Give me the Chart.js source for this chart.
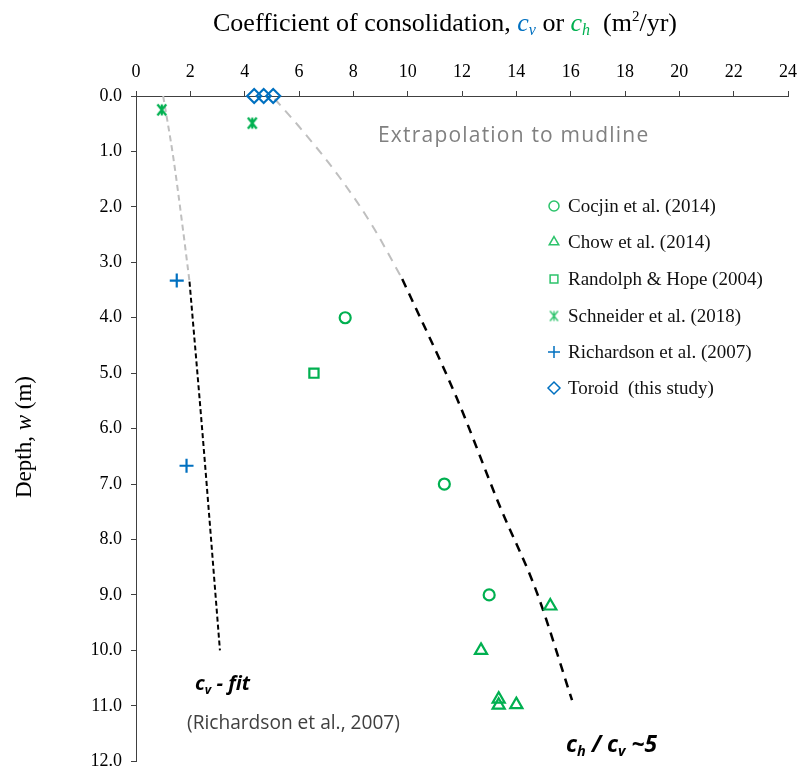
<!DOCTYPE html>
<html>
<head>
<meta charset="utf-8">
<script src="https://cdn.jsdelivr.net/npm/chart.js"></script>
<style>
  html, body { margin: 0; padding: 0; background: #fff; }
  #wrap { width: 805px; height: 781px; }
</style>
</head>
<body>
<div id="wrap"><canvas id="mycanvas" width="805" height="781"></canvas></div>
<script>
// ---- data (x = c in m2/yr, y = depth in m) ----
var cocjinX = [7.7, 11.35, 13.0];
var cocjinY = [4.0, 7.0, 9.0];
var chowX = [15.25, 12.7, 13.35, 13.35, 14.0];
var chowY = [9.2, 10.0, 10.88, 10.99, 10.98];
var randolphX = [6.55];
var randolphY = [5.0];
var schneiderX = [0.95, 4.28];
var schneiderY = [0.25, 0.49];
var richardsonX = [1.5, 1.86];
var richardsonY = [3.33, 6.67];
var toroidX = [4.35, 4.7, 5.05];
var toroidY = [0, 0, 0];

// fit lines
var cvExtX = [1.0, 1.37, 1.74, 1.97];
var cvExtY = [0.0, 1.1, 2.45, 3.35];
var cvFitX = [1.97, 2.45, 3.09];
var cvFitY = [3.35, 6.1, 10.0];
var chExtX = [5.1, 6.0, 7.5, 8.7, 9.8];
var chExtY = [0.05, 0.55, 1.47, 2.34, 3.3];
var chFitX = [9.8, 11.8, 13.4, 14.75, 16.05];
var chFitY = [3.3, 5.44, 7.41, 8.95, 10.9];

var legendNames = ['Cocjin et al. (2014)', 'Chow et al. (2014)', 'Randolph & Hope (2004)',
  'Schneider et al. (2018)', 'Richardson et al. (2007)', 'Toroid  (this study)'];

var green = '#00B050';
var blue = '#0070C0';

function pts(xs, ys) {
  var out = [];
  for (var i in xs) out.push({x: xs[i], y: ys[i]});
  return out;
}

// Excel style star marker (x with a vertical bar)
function starMarker(color, size, lw) {
  var c = document.createElement('canvas');
  c.width = size; c.height = size;
  var g = c.getContext('2d');
  var h = size / 2, r = size / 2 - 1.5;
  g.strokeStyle = color;
  g.lineWidth = lw;
  g.beginPath();
  g.moveTo(h - r * 0.8, h - r); g.lineTo(h + r * 0.8, h + r);
  g.moveTo(h + r * 0.8, h - r); g.lineTo(h - r * 0.8, h + r);
  g.moveTo(h, h - r); g.lineTo(h, h + r);
  g.stroke();
  return c;
}
var starImg = starMarker(green, 14, 2.2);
var starLegend = starMarker('#2CC36B', 13, 1.3);

function markerSet(label, xs, ys, style, color, radius) {
  return {
    label: label,
    data: pts(xs, ys),
    pointStyle: style,
    pointRadius: radius,
    pointHoverRadius: radius,
    pointBorderColor: color,
    pointBackgroundColor: 'rgba(255,255,255,0)',
    pointBorderWidth: 2.2,
    showLine: false,
    clip: false,
    order: 1
  };
}
function lineSet(label, xs, ys, color, dash, width) {
  return {
    label: label,
    data: pts(xs, ys),
    showLine: true,
    borderColor: color,
    borderWidth: width,
    borderDash: dash,
    pointRadius: 0,
    cubicInterpolationMode: 'monotone',
    fill: false,
    clip: false,
    order: 2
  };
}

var legendMarkers = [
  {style: 'circle', color: '#2CC36B', radius: 5},
  {style: 'triangle', color: '#2CC36B', radius: 5.5},
  {style: 'rect', color: '#2CC36B', radius: 5.5},
  {style: starLegend, color: '#2CC36B', radius: 6},
  {style: 'cross', color: blue, radius: 6},
  {style: 'rectRot', color: blue, radius: 6}
];

var datasets = [
  lineSet('cv extrapolation', cvExtX, cvExtY, '#BFBFBF', [6, 4], 2),
  lineSet('cv fit', cvFitX, cvFitY, '#000000', [5, 3], 2),
  lineSet('ch extrapolation', chExtX, chExtY, '#BFBFBF', [9, 7], 2),
  lineSet('ch fit', chFitX, chFitY, '#000000', [9, 7], 2.5),
  markerSet(legendNames[0], cocjinX, cocjinY, 'circle', green, 5.5),
  markerSet(legendNames[1], chowX, chowY, 'triangle', green, 7),
  markerSet(legendNames[2], randolphX, randolphY, 'rect', green, 6.5),
  markerSet(legendNames[3], schneiderX, schneiderY, starImg, green, 6),
  markerSet(legendNames[4], richardsonX, richardsonY, 'cross', blue, 7),
  markerSet(legendNames[5], toroidX, toroidY, 'rectRot', blue, 7)
];

var serif = '"Liberation Serif", "Times New Roman", serif';
var sans = '"Open Sans", Lato, sans-serif';

// draws a run of text pieces: [text, style, size, family, color, dy]
// if fitW is given the sizes are scaled so the run is fitW wide
function drawRun(ctx, parts, x, y, align, fitW) {
  function total(k) {
    var w = 0;
    for (var i in parts) {
      ctx.font = parts[i][1] + ' ' + (parts[i][2] * k) + 'px ' + parts[i][3];
      w += ctx.measureText(parts[i][0]).width;
    }
    return w;
  }
  var k = 1;
  if (fitW) k = fitW / total(1);
  var tw = total(k);
  var cx = align === 'center' ? x - tw / 2 : x;
  ctx.textAlign = 'left';
  ctx.textBaseline = 'alphabetic';
  for (var j in parts) {
    var p = parts[j];
    ctx.font = p[1] + ' ' + (p[2] * k) + 'px ' + p[3];
    ctx.fillStyle = p[4];
    ctx.fillText(p[0], cx, y + (p[5] || 0) * k);
    cx += ctx.measureText(p[0]).width;
  }
}

var extras = {
  id: 'extras',
  afterDraw: function(chart) {
    var ctx = chart.ctx;
    ctx.save();
    // title on top
    drawRun(ctx, [
      ['Coefficient of consolidation, ', 'normal', 26, serif, '#000'],
      ['c', 'italic', 26, serif, blue],
      ['v', 'italic', 16, serif, blue, 4],
      [' or ', 'normal', 26, serif, '#000'],
      ['c', 'italic', 26, serif, green],
      ['h', 'italic', 16, serif, green, 4],
      ['  (m', 'normal', 26, serif, '#000'],
      ['2', 'normal', 15, serif, '#000', -10],
      ['/yr)', 'normal', 26, serif, '#000']
    ], 445, 31, 'center', 464);

    // y title, rotated
    ctx.save();
    ctx.translate(31, 437);
    ctx.rotate(-Math.PI / 2);
    drawRun(ctx, [
      ['Depth, ', 'normal', 23, serif, '#000'],
      ['w', 'italic', 23, serif, '#000'],
      [' (m)', 'normal', 23, serif, '#000']
    ], 0, 0, 'center');
    ctx.restore();

    // annotations
    ctx.save();
    if ('letterSpacing' in ctx) ctx.letterSpacing = '1.2px';
    drawRun(ctx, [['Extrapolation to mudline', 'normal', 21, sans, '#808080']], 378, 142, 'left');
    ctx.restore();
    drawRun(ctx, [
      ['c', 'bold italic', 21, sans, '#000'],
      ['v', 'bold italic', 13, sans, '#000', 4],
      [' - ', 'bold italic', 21, sans, '#000'],
      ['fit', 'bold italic', 21, sans, '#000']
    ], 195, 690, 'left', 55);
    drawRun(ctx, [['(Richardson et al., 2007)', 'normal', 19, sans, '#404040']], 187, 729, 'left', 213);
    drawRun(ctx, [
      ['c', 'bold italic', 22, sans, '#000'],
      ['h', 'bold italic', 14, sans, '#000', 4],
      [' / ', 'bold italic', 22, sans, '#000'],
      ['c', 'bold italic', 22, sans, '#000'],
      ['v', 'bold italic', 14, sans, '#000', 4],
      [' ~5', 'bold italic', 22, sans, '#000']
    ], 566, 752, 'left', 91);

    // legend
    var rows = [206, 242, 279, 316, 352, 388];
    for (var i = 0; i < legendNames.length; i++) {
      var m = legendMarkers[i];
      ctx.strokeStyle = m.color;
      ctx.fillStyle = 'rgba(255,255,255,0)';
      ctx.lineWidth = 1.5;
      Chart.helpers.drawPoint(ctx, {pointStyle: m.style, radius: m.radius, borderWidth: 1.5, rotation: 0}, 554, rows[i]);
      ctx.font = '19px ' + serif;
      ctx.fillStyle = '#111';
      ctx.textAlign = 'left';
      ctx.textBaseline = 'middle';
      ctx.fillText(legendNames[i], 568, rows[i] + 1);
    }
    ctx.restore();
  }
};

var ctx = document.getElementById('mycanvas');
var chart = new Chart(ctx, {
  type: 'scatter',
  data: {datasets: datasets},
  options: {
    responsive: false,
    animation: false,
    layout: {padding: {left: 0, top: 0, right: 17, bottom: 14}},
    plugins: {legend: {display: false}, tooltip: {enabled: false}},
    scales: {
      x: {
        type: 'linear',
        position: 'top',
        min: 0, max: 24,
        ticks: {stepSize: 2, color: '#000', padding: 8, font: {family: serif, size: 18}},
        grid: {display: true, drawOnChartArea: false, drawTicks: true, tickLength: 5, color: '#404040'},
        border: {display: true, color: '#404040', width: 1},
        afterFit: function(scale) { scale.height = 96; }
      },
      y: {
        type: 'linear',
        reverse: true,
        min: 0, max: 12,
        ticks: {stepSize: 1, color: '#000', padding: 9, font: {family: serif, size: 18},
          callback: function(v) { return v.toFixed(1); }},
        grid: {display: true, drawOnChartArea: false, drawTicks: true, tickLength: 5, color: '#404040'},
        border: {display: true, color: '#404040', width: 1},
        afterFit: function(scale) { scale.width = 136; }
      }
    }
  },
  plugins: [extras]
});
</script>
</body>
</html>
